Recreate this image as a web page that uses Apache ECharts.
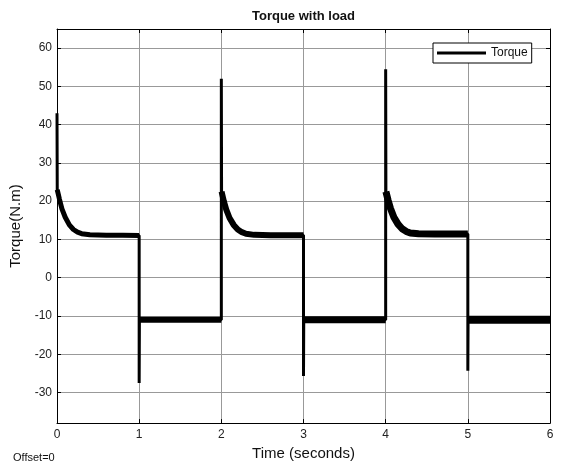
<!DOCTYPE html>
<html lang="en">
<head>
<meta charset="UTF-8">
<title>Torque with load</title>
<script src="https://cdn.jsdelivr.net/npm/echarts@6/dist/echarts.min.js"></script>
<style>
  html, body { margin: 0; padding: 0; background: #fff; }
  #chart { width: 564px; height: 466px; }
</style>
</head>
<body>
<div id="chart"></div>
<script>
// switching instants and the spike reached at each one
const segStart = [0, 1, 2, 3, 4, 5];
const spikePeak = [43, -27.5, 52, -25.7, 54.5, -24.3];

// offsets (s) inside each half period
const decayT = [0.003, 0.03, 0.06, 0.1, 0.15, 0.2, 0.25, 0.3, 0.4, 0.6, 0.8, 1.0];
const lowT = [0.003, 0.5, 1.0];

// torque after each switch (N.m)
const seg0 = [23, 20.5, 18, 15.8, 13.8, 12.6, 11.9, 11.5, 11.2, 11.1, 11.1, 11.0];
const seg1 = [-11, -11, -11];
const seg2 = [22.5, 20, 17.8, 15.6, 13.8, 12.6, 11.9, 11.5, 11.2, 11.1, 11.1, 11.1];
const seg3 = [-11, -11, -11];
const seg4 = [22.5, 20.2, 18, 15.8, 14, 12.8, 12.1, 11.7, 11.5, 11.4, 11.4, 11.4];
const seg5 = [-11, -11, -11];

const xTicks = [0, 1, 2, 3, 4, 5, 6];

const segValues = [seg0, seg1, seg2, seg3, seg4, seg5];
const segTimes = [decayT, lowT, decayT, lowT, decayT, lowT];
const bandWidth = [5, 6, 6, 7, 7, 8];

// full trace with the vertical jumps and spikes
const trace = [];
const bands = [];
segStart.forEach(function (t0, k) {
    if (k > 0) {
        const prev = segValues[k - 1];
        trace.push([t0, prev[prev.length - 1]]);
    }
    trace.push([t0, spikePeak[k]]);
    const pts = segTimes[k].map(function (dt, i) { return [t0 + dt, segValues[k][i]]; });
    pts.forEach(function (p) { trace.push(p); });
    bands.push(pts);
});

const series = [{
    name: 'Torque',
    type: 'line',
    data: trace,
    symbol: 'none',
    lineStyle: { color: '#000', width: 3 },
    itemStyle: { color: '#000' },
    animation: false,
    z: 3
}];
bands.forEach(function (pts, k) {
    series.push({
        name: 'band' + k,
        type: 'line',
        data: pts,
        symbol: 'none',
        lineStyle: { color: '#000', width: bandWidth[k] },
        animation: false,
        z: 3
    });
});

const font = 'Liberation Sans, Arial, sans-serif';

let myChart = echarts.init(document.getElementById('chart'));
myChart.setOption({
    backgroundColor: '#fff',
    animation: false,
    title: {
        text: 'Torque with load',
        left: 303.5,
        textAlign: 'center',
        top: 10,
        padding: 0,
        textStyle: { fontFamily: font, fontSize: 13, fontWeight: 'bold', color: '#111' }
    },
    legend: {
        data: [{ name: 'Torque', icon: 'rect' }],
        left: 433,
        top: 43,
        padding: [4, 4, 4, 4],
        itemWidth: 49,
        itemHeight: 3,
        itemGap: 5,
        backgroundColor: '#fff',
        borderColor: '#000',
        borderWidth: 1,
        borderRadius: 0,
        itemStyle: { color: '#000' },
        textStyle: { fontFamily: font, fontSize: 12, color: '#111', lineHeight: 12, padding: [0, 0, 0, 0] }
    },
    grid: { left: 57, right: 14, top: 29, bottom: 41 },
    xAxis: [{
        type: 'value',
        min: 0,
        max: 6,
        interval: 1,
        name: 'Time (seconds)',
        nameLocation: 'middle',
        nameGap: 21,
        nameTextStyle: { fontFamily: font, fontSize: 15, color: '#111' },
        axisLine: { onZero: false, lineStyle: { color: '#000', width: 1 } },
        axisTick: { inside: true, length: 4, lineStyle: { color: '#000' } },
        axisLabel: {
            margin: 6, fontFamily: font, fontSize: 12, color: '#222',
            formatter: function (v) { return xTicks.indexOf(v) >= 0 ? String(v) : ''; }
        },
        splitLine: { show: true, lineStyle: { color: '#999', width: 1 } }
    }, {
        type: 'value',
        position: 'top',
        min: 0,
        max: 6,
        interval: 1,
        axisLine: { show: true, onZero: false, lineStyle: { color: '#000', width: 1 } },
        axisTick: { inside: true, length: 4, lineStyle: { color: '#000' } },
        axisLabel: { show: false },
        splitLine: { show: false }
    }],
    yAxis: [{
        type: 'value',
        min: -38,
        max: 65,
        splitNumber: 10,
        name: 'Torque(N.m)',
        nameLocation: 'middle',
        nameGap: 27,
        nameTextStyle: { fontFamily: font, fontSize: 15, color: '#111' },
        axisLine: { show: true, onZero: false, lineStyle: { color: '#000', width: 1 } },
        axisTick: { show: true, inside: true, length: 4, lineStyle: { color: '#000' } },
        axisLabel: {
            margin: 5, fontFamily: font, fontSize: 12, color: '#222',
            showMinLabel: false, showMaxLabel: false
        },
        splitLine: { show: true, lineStyle: { color: '#999', width: 1 } }
    }, {
        type: 'value',
        position: 'right',
        min: -38,
        max: 65,
        splitNumber: 10,
        axisLine: { show: true, onZero: false, lineStyle: { color: '#000', width: 1 } },
        axisTick: { show: true, inside: true, length: 4, lineStyle: { color: '#000' } },
        axisLabel: { show: false },
        splitLine: { show: false }
    }],
    graphic: [{
        type: 'text',
        left: 13,
        top: 452,
        style: { text: 'Offset=0', font: '11px Liberation Sans, Arial, sans-serif', fill: '#111' }
    }],
    series: series
});
</script>
</body>
</html>
